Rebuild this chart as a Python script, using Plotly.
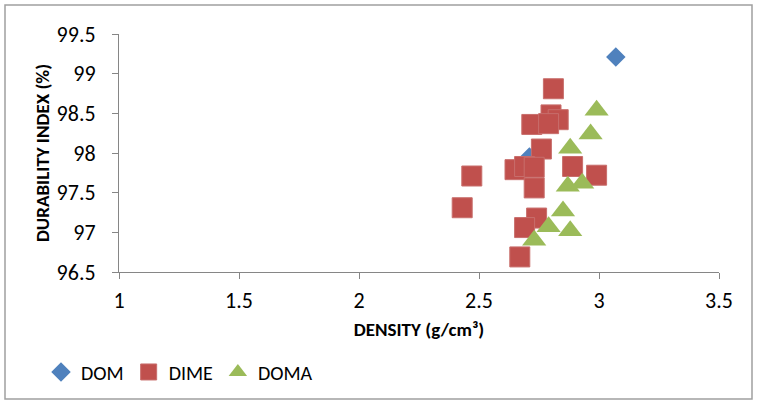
import plotly.graph_objects as go

# Data
dom_x = [3.07, 2.71]
dom_y = [99.21, 97.95]

dime_x = [2.81, 2.80, 2.83, 2.72, 2.79, 2.76, 2.65, 2.69, 2.73, 2.89, 2.99, 2.47, 2.73, 2.43, 2.74, 2.69, 2.67]
dime_y = [98.81, 98.48, 98.42, 98.36, 98.37, 98.05, 97.79, 97.83, 97.82, 97.83, 97.72, 97.71, 97.56, 97.31, 97.18, 97.06, 96.69]

doma_x = [2.99, 2.965, 2.88, 2.87, 2.93, 2.85, 2.79, 2.88, 2.73]
doma_y = [98.54, 98.24, 98.06, 97.58, 97.62, 97.27, 97.07, 97.02, 96.90]

x_ticks = [1, 1.5, 2, 2.5, 3, 3.5]
y_ticks = [96.5, 97, 97.5, 98, 98.5, 99, 99.5]

FONT = "Carlito, Calibri, Lato, sans-serif"

fig = go.Figure()
fig.add_trace(go.Scatter(x=dom_x, y=dom_y, mode="markers", name="DOM",
                         marker=dict(symbol="diamond", size=15, color="#4F81BD")))
fig.add_trace(go.Scatter(x=dime_x, y=dime_y, mode="markers", name="DIME",
                         marker=dict(symbol="square", size=20, color="#C0504D",
                                     line=dict(width=1, color="rgba(200,110,108,1)"))))
fig.add_trace(go.Scatter(x=doma_x, y=doma_y, mode="markers", name="DOMA",
                         marker=dict(symbol="triangle-up", size=21, color="#9BBB59")))

axis_common = dict(showgrid=False, zeroline=False, showline=True, linecolor="#868686",
                   linewidth=1, ticks="outside", ticklen=6, tickcolor="#868686",
                   tickfont=dict(family=FONT, size=22, color="#000000"))

fig.update_xaxes(range=[1, 3.5], tickvals=x_ticks, ticktext=[str(v) for v in x_ticks],
                 title=dict(text="<b>DENSITY (g/cm³)</b>", font=dict(family=FONT, size=19, color="#000"),
                            standoff=9),
                 ticklabelstandoff=3, **axis_common)
fig.update_yaxes(range=[96.5, 99.5], tickvals=y_ticks, ticktext=[str(v) for v in y_ticks],
                 title=dict(text="<b>DURABILITY INDEX (%)</b>", font=dict(family=FONT, size=19, color="#000"),
                            standoff=1),
                 ticklabelstandoff=12, **axis_common)

fig.update_layout(
    width=757, height=404,
    margin=dict(l=119, r=38, t=34, b=132),
    plot_bgcolor="white", paper_bgcolor="white",
    showlegend=True,
    legend=dict(orientation="h", x=-0.13, y=-0.42, xanchor="left", yanchor="middle",
                font=dict(family=FONT, size=20, color="#000"), itemwidth=30,
                bgcolor="rgba(0,0,0,0)"),
    shapes=[dict(type="rect", xref="paper", yref="paper",
                 x0=(5 - 119) / 600, x1=(752 - 119) / 600,
                 y0=(272 - 399) / 238, y1=(272 - 5) / 238,
                 line=dict(color="#a0a0a0", width=1.5), fillcolor="rgba(0,0,0,0)", layer="below")],
)

fig.write_html("out.html")
